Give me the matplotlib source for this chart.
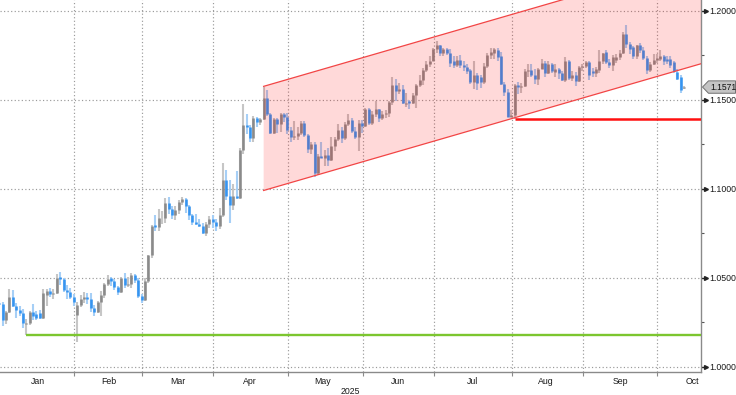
import numpy as np
import matplotlib
matplotlib.use("Agg")
import matplotlib.pyplot as plt
from matplotlib.patches import Polygon
import matplotlib.transforms as mtransforms

# ---------------- data (EUR/USD daily candles, 2025-01-01 .. 2025-10-10) -------------
opens = [
    1.0358, 1.0353, 1.0265, 1.0308, 1.0390, 1.0343, 1.0318, 1.0300, 1.0240, 1.0246,
    1.0307, 1.0295, 1.0300, 1.0272, 1.0405, 1.0428, 1.0410, 1.0414, 1.0505, 1.0494,
    1.0430, 1.0420, 1.0390, 1.0290, 1.0346, 1.0378, 1.0393, 1.0380, 1.0330, 1.0307,
    1.0361, 1.0400, 1.0465, 1.0498, 1.0482, 1.0445, 1.0420, 1.0500, 1.0458, 1.0465,
    1.0515, 1.0488, 1.0398, 1.0376, 1.0484, 1.0625, 1.0795, 1.0785, 1.0833, 1.0838,
    1.0918, 1.0888, 1.0853, 1.0880, 1.0923, 1.0943, 1.0902, 1.0852, 1.0815, 1.0800,
    1.0790, 1.0753, 1.0800, 1.0830, 1.0815, 1.0790, 1.0850, 1.1050, 1.0960, 1.0910,
    1.0960, 1.0950, 1.1220, 1.1360, 1.1345, 1.1285, 1.1398, 1.1375, 1.1390, 1.1510,
    1.1420, 1.1315, 1.1390, 1.1365, 1.1420, 1.1400, 1.1330, 1.1290, 1.1298, 1.1315,
    1.1370, 1.1300, 1.1225, 1.1250, 1.1090, 1.1185, 1.1175, 1.1190, 1.1160, 1.1240,
    1.1280, 1.1330, 1.1285, 1.1365, 1.1385, 1.1325, 1.1290, 1.1370, 1.1350, 1.1445,
    1.1370, 1.1420, 1.1445, 1.1395, 1.1420, 1.1425, 1.1485, 1.1585, 1.1550, 1.1560,
    1.1475, 1.1495, 1.1480, 1.1525, 1.1580, 1.1610, 1.1665, 1.1700, 1.1720, 1.1785,
    1.1805, 1.1760, 1.1785, 1.1765, 1.1720, 1.1695, 1.1722, 1.1695, 1.1685, 1.1665,
    1.1600, 1.1640, 1.1625, 1.1598, 1.1690, 1.1752, 1.1765, 1.1780, 1.1745, 1.1590,
    1.1545, 1.1405, 1.1415, 1.1585, 1.1570, 1.1575, 1.1660, 1.1665, 1.1640, 1.1615,
    1.1675, 1.1705, 1.1650, 1.1700, 1.1655, 1.1670, 1.1650, 1.1610, 1.1720, 1.1620,
    1.1640, 1.1605, 1.1685, 1.1690, 1.1710, 1.1660, 1.1648, 1.1665, 1.1720, 1.1768,
    1.1710, 1.1695, 1.1725, 1.1740, 1.1760, 1.1870, 1.1815, 1.1795, 1.1745, 1.1805,
    1.1780, 1.1735, 1.1665, 1.1700, 1.1725, 1.1730, 1.1745, 1.1730, 1.1730, 1.1712,
    1.1655, 1.1628, 1.1565,
]
highs = [
    1.0372, 1.0365, 1.0315, 1.0437, 1.0432, 1.0356, 1.0340, 1.0322, 1.0268, 1.0313,
    1.0353, 1.0315, 1.0320, 1.0434, 1.0437, 1.0440, 1.0435, 1.0520, 1.0533, 1.0500,
    1.0460, 1.0440, 1.0410, 1.0365, 1.0400, 1.0420, 1.0415, 1.0413, 1.0345, 1.0370,
    1.0425, 1.0470, 1.0513, 1.0505, 1.0490, 1.0455, 1.0505, 1.0528, 1.0505, 1.0528,
    1.0520, 1.0498, 1.0410, 1.0500, 1.0630, 1.0797, 1.0854, 1.0888, 1.0875, 1.0947,
    1.0955, 1.0905, 1.0905, 1.0935, 1.0955, 1.0950, 1.0910, 1.0860, 1.0860, 1.0830,
    1.0805, 1.0815, 1.0845, 1.0855, 1.0830, 1.0890, 1.1145, 1.1107, 1.1050, 1.1025,
    1.1100, 1.1230, 1.1475, 1.1420, 1.1360, 1.1408, 1.1405, 1.1395, 1.1573, 1.1555,
    1.1425, 1.1395, 1.1395, 1.1425, 1.1425, 1.1425, 1.1345, 1.1380, 1.1345, 1.1380,
    1.1380, 1.1310, 1.1265, 1.1265, 1.1195, 1.1265, 1.1215, 1.1230, 1.1288, 1.1290,
    1.1365, 1.1345, 1.1375, 1.1420, 1.1395, 1.1345, 1.1385, 1.1385, 1.1455, 1.1455,
    1.1435, 1.1495, 1.1450, 1.1435, 1.1440, 1.1495, 1.1630, 1.1615, 1.1595, 1.1580,
    1.1540, 1.1500, 1.1540, 1.1590, 1.1640, 1.1680, 1.1715, 1.1745, 1.1790, 1.1830,
    1.1810, 1.1790, 1.1790, 1.1785, 1.1745, 1.1745, 1.1750, 1.1720, 1.1700, 1.1675,
    1.1720, 1.1650, 1.1640, 1.1705, 1.1760, 1.1789, 1.1788, 1.1790, 1.1770, 1.1600,
    1.1560, 1.1440, 1.1590, 1.1598, 1.1595, 1.1670, 1.1700, 1.1700, 1.1675, 1.1680,
    1.1730, 1.1715, 1.1715, 1.1705, 1.1700, 1.1680, 1.1660, 1.1740, 1.1725, 1.1660,
    1.1655, 1.1690, 1.1700, 1.1720, 1.1720, 1.1680, 1.1685, 1.1780, 1.1765, 1.1780,
    1.1730, 1.1750, 1.1755, 1.1780, 1.1878, 1.1918, 1.1825, 1.1800, 1.1810, 1.1820,
    1.1795, 1.1745, 1.1710, 1.1755, 1.1755, 1.1780, 1.1750, 1.1745, 1.1745, 1.1720,
    1.1670, 1.1640, 1.1575,
]
lows = [
    1.0345, 1.0226, 1.0241, 1.0300, 1.0335, 1.0272, 1.0285, 1.0215, 1.0178, 1.0236,
    1.0262, 1.0262, 1.0266, 1.0266, 1.0342, 1.0390, 1.0380, 1.0410, 1.0458, 1.0420,
    1.0382, 1.0380, 1.0340, 1.0141, 1.0336, 1.0360, 1.0355, 1.0310, 1.0285, 1.0300,
    1.0285, 1.0385, 1.0455, 1.0455, 1.0430, 1.0402, 1.0412, 1.0440, 1.0450, 1.0440,
    1.0468, 1.0385, 1.0359, 1.0370, 1.0470, 1.0610, 1.0765, 1.0765, 1.0800, 1.0810,
    1.0858, 1.0830, 1.0823, 1.0860, 1.0910, 1.0865, 1.0825, 1.0797, 1.0795, 1.0785,
    1.0745, 1.0735, 1.0780, 1.0780, 1.0765, 1.0775, 1.0840, 1.0935, 1.0810, 1.0880,
    1.0940, 1.0940, 1.1195, 1.1310, 1.1265, 1.1265, 1.1345, 1.1360, 1.1385, 1.1410,
    1.1310, 1.1310, 1.1315, 1.1320, 1.1375, 1.1310, 1.1265, 1.1275, 1.1275, 1.1300,
    1.1290, 1.1200, 1.1195, 1.1065, 1.1075, 1.1170, 1.1130, 1.1130, 1.1155, 1.1210,
    1.1270, 1.1255, 1.1275, 1.1355, 1.1315, 1.1280, 1.1210, 1.1315, 1.1345, 1.1360,
    1.1360, 1.1400, 1.1375, 1.1385, 1.1395, 1.1405, 1.1470, 1.1490, 1.1530, 1.1475,
    1.1460, 1.1445, 1.1475, 1.1455, 1.1570, 1.1585, 1.1655, 1.1685, 1.1715, 1.1765,
    1.1745, 1.1745, 1.1750, 1.1685, 1.1680, 1.1685, 1.1680, 1.1660, 1.1645, 1.1590,
    1.1560, 1.1555, 1.1568, 1.1590, 1.1680, 1.1730, 1.1730, 1.1720, 1.1585, 1.1520,
    1.1400, 1.1400, 1.1391, 1.1530, 1.1535, 1.1570, 1.1630, 1.1625, 1.1590, 1.1580,
    1.1670, 1.1630, 1.1645, 1.1650, 1.1630, 1.1615, 1.1605, 1.1600, 1.1610, 1.1605,
    1.1575, 1.1600, 1.1660, 1.1680, 1.1610, 1.1630, 1.1630, 1.1650, 1.1700, 1.1700,
    1.1680, 1.1660, 1.1705, 1.1725, 1.1755, 1.1790, 1.1755, 1.1730, 1.1730, 1.1765,
    1.1725, 1.1645, 1.1655, 1.1695, 1.1705, 1.1715, 1.1695, 1.1700, 1.1680, 1.1650,
    1.1610, 1.1540, 1.1560,
]
closes = [
    1.0353, 1.0265, 1.0308, 1.0390, 1.0343, 1.0318, 1.0300, 1.0244, 1.0246, 1.0307,
    1.0285, 1.0272, 1.0272, 1.0415, 1.0428, 1.0410, 1.0414, 1.0496, 1.0494, 1.0430,
    1.0420, 1.0390, 1.0362, 1.0346, 1.0380, 1.0393, 1.0380, 1.0330, 1.0307, 1.0361,
    1.0400, 1.0465, 1.0490, 1.0482, 1.0445, 1.0420, 1.0500, 1.0458, 1.0465, 1.0515,
    1.0488, 1.0398, 1.0376, 1.0484, 1.0625, 1.0790, 1.0785, 1.0833, 1.0838, 1.0918,
    1.0888, 1.0853, 1.0880, 1.0923, 1.0943, 1.0902, 1.0852, 1.0815, 1.0800, 1.0790,
    1.0753, 1.0800, 1.0830, 1.0815, 1.0790, 1.0850, 1.1050, 1.0960, 1.0910, 1.0960,
    1.0950, 1.1220, 1.1360, 1.1345, 1.1285, 1.1398, 1.1375, 1.1390, 1.1510, 1.1420,
    1.1315, 1.1390, 1.1365, 1.1420, 1.1400, 1.1330, 1.1290, 1.1298, 1.1315, 1.1370,
    1.1300, 1.1225, 1.1250, 1.1090, 1.1185, 1.1175, 1.1190, 1.1160, 1.1240, 1.1280,
    1.1330, 1.1285, 1.1365, 1.1385, 1.1325, 1.1290, 1.1370, 1.1350, 1.1445, 1.1370,
    1.1420, 1.1445, 1.1395, 1.1420, 1.1425, 1.1485, 1.1585, 1.1550, 1.1560, 1.1480,
    1.1482, 1.1480, 1.1525, 1.1580, 1.1610, 1.1665, 1.1700, 1.1720, 1.1785, 1.1805,
    1.1760, 1.1785, 1.1765, 1.1705, 1.1695, 1.1722, 1.1695, 1.1685, 1.1660, 1.1600,
    1.1640, 1.1595, 1.1598, 1.1690, 1.1752, 1.1770, 1.1785, 1.1742, 1.1590, 1.1545,
    1.1405, 1.1415, 1.1585, 1.1570, 1.1575, 1.1660, 1.1665, 1.1640, 1.1615, 1.1675,
    1.1705, 1.1650, 1.1700, 1.1660, 1.1670, 1.1650, 1.1610, 1.1720, 1.1620, 1.1640,
    1.1605, 1.1685, 1.1690, 1.1710, 1.1640, 1.1648, 1.1672, 1.1720, 1.1760, 1.1710,
    1.1695, 1.1740, 1.1740, 1.1765, 1.1870, 1.1815, 1.1787, 1.1745, 1.1805, 1.1780,
    1.1735, 1.1665, 1.1700, 1.1725, 1.1735, 1.1745, 1.1715, 1.1720, 1.1695, 1.1660,
    1.1618, 1.1552, 1.1571,
]

months = ["Jan", "Feb", "Mar", "Apr", "May", "Jun", "Jul", "Aug", "Sep", "Oct"]
year_label = "2025"
y_ticks = [1.00, 1.05, 1.10, 1.15, 1.20]
y_minor = [1.025, 1.075, 1.125, 1.175]
last_price = 1.1571

green_level, green_start = 1.0178, 8        # Jan-13 low
red_level, red_start = 1.1391, 152          # Aug-01 low
channel_x = [78, 207]
channel_lower = [1.0990, 1.1702]
channel_upper = [1.1575, 1.2287]

# ---------------- layout ----------------
W, H = 736, 395
fig = plt.figure(figsize=(W / 100, H / 100), dpi=100)
fig.patch.set_facecolor("white")
ax = fig.add_axes([0, 23 / H, 701 / W, 372 / H])
ax.set_facecolor("white")
XMIN, XMAX = 0.236, 207.0
ax.set_xlim(XMIN, XMAX)
ax.set_ylim(0.99702, 1.20601)

o = np.array(opens); h = np.array(highs); l = np.array(lows); c = np.array(closes)
x = np.arange(len(c))
up = c >= o

grid_kw = dict(color="#9A9A9A", lw=0.85, linestyle=(0, (1, 2)), zorder=1)
month_bounds = [22.1, 42.1, 63.1, 85.2, 107.3, 128.2, 151.3, 172.2, 194.0]
for yv in y_ticks:
    ax.axhline(yv, **grid_kw)
for xv in month_bounds:
    ax.axvline(xv, **grid_kw)

# candles
wick_col = np.where(up, "#C6C6C6", "#A6CFF6")
body_col = np.where(up, "#8A8A8A", "#3594F0")
wk = ax.vlines(x, l, h, colors=list(wick_col), lw=1.5, zorder=2)
wk.set_capstyle("butt")
bb = np.minimum(o, c)
bt = np.maximum(o, c)
bt = np.maximum(bt, bb + 0.0004)
bd = ax.vlines(x, bb, bt, colors=list(body_col), lw=1.85, zorder=3)
bd.set_capstyle("butt")

# channel
poly = Polygon([(channel_x[0], channel_lower[0]), (channel_x[1], channel_lower[1]),
                (channel_x[1], channel_upper[1]), (channel_x[0], channel_upper[0])],
               closed=True, facecolor=(1, 0, 0, 0.15), edgecolor="none", zorder=4)
ax.add_patch(poly)
ax.plot(channel_x, channel_lower, color="#F24545", lw=0.9, zorder=5)
ax.plot(channel_x, channel_upper, color="#F24545", lw=0.9, zorder=5)

# horizontal levels
ax.hlines(red_level, red_start, XMAX, color="#FF1010", lw=1.8, zorder=5)
ax.hlines(green_level, green_start, XMAX, color="#7CC62F", lw=1.7, zorder=5)

# spines
for s in ["top", "left"]:
    ax.spines[s].set_visible(False)
for s in ["right", "bottom"]:
    ax.spines[s].set_color("#8A8A8A")
    ax.spines[s].set_linewidth(1.0)

font = "Liberation Sans"
ax.yaxis.tick_right()
ax.set_yticks(y_ticks)
ax.set_yticklabels([f"{v:.4f}" for v in y_ticks], fontsize=6.3, family=font, color="#1A1A1A")
ax.set_yticks(y_minor, minor=True)
ax.tick_params(axis="y", which="major", length=4, width=1, color="#222222", pad=2.2)
ax.tick_params(axis="y", which="minor", length=2, width=0.8, color="#555555")
trans_y = mtransforms.blended_transform_factory(ax.transAxes, ax.transData)
ax.plot([1 + 4.5 / 701] * len(y_ticks), y_ticks, linestyle="none", marker=">",
        markersize=2.8, color="#222222", transform=trans_y, clip_on=False, zorder=6)

ax.set_xticks(month_bounds)
ax.set_xticklabels([])
ax.tick_params(axis="x", length=3, width=0.8, color="#8A8A8A")
trans_x = mtransforms.blended_transform_factory(ax.transData, ax.transAxes)
month_pos = [11.4, 32.4, 52.7, 74.0, 95.5, 117.6, 139.5, 161.3, 183.1, 204.4]
for name, xp in zip(months, month_pos):
    ax.text(xp, -9 / 372, name, transform=trans_x, ha="center", va="center",
            fontsize=6.3, family=font, color="#1A1A1A")
ax.text(103.5, -19 / 372, year_label, transform=trans_x, ha="center", va="center",
        fontsize=6.3, family=font, color="#1A1A1A")

# last price tag
fig.canvas.draw()
yd = ax.transData.transform((0, last_price))[1]
xs = 701
tag = Polygon([(xs + 1.5, yd), (xs + 7.5, yd + 6.2), (735.5, yd + 6.2),
               (735.5, yd - 6.2), (xs + 7.5, yd - 6.2)], closed=True,
              facecolor="#C4C4C4", edgecolor="#707070", lw=0.7,
              transform=mtransforms.IdentityTransform(), clip_on=False, zorder=10)
fig.patches.append(tag)
fig.text((xs + 9.0) / W, yd / H, f"{last_price:.4f}", ha="left", va="center",
         fontsize=6.2, family=font, color="#111111", zorder=11)

fig.savefig("out.png", dpi=100)
